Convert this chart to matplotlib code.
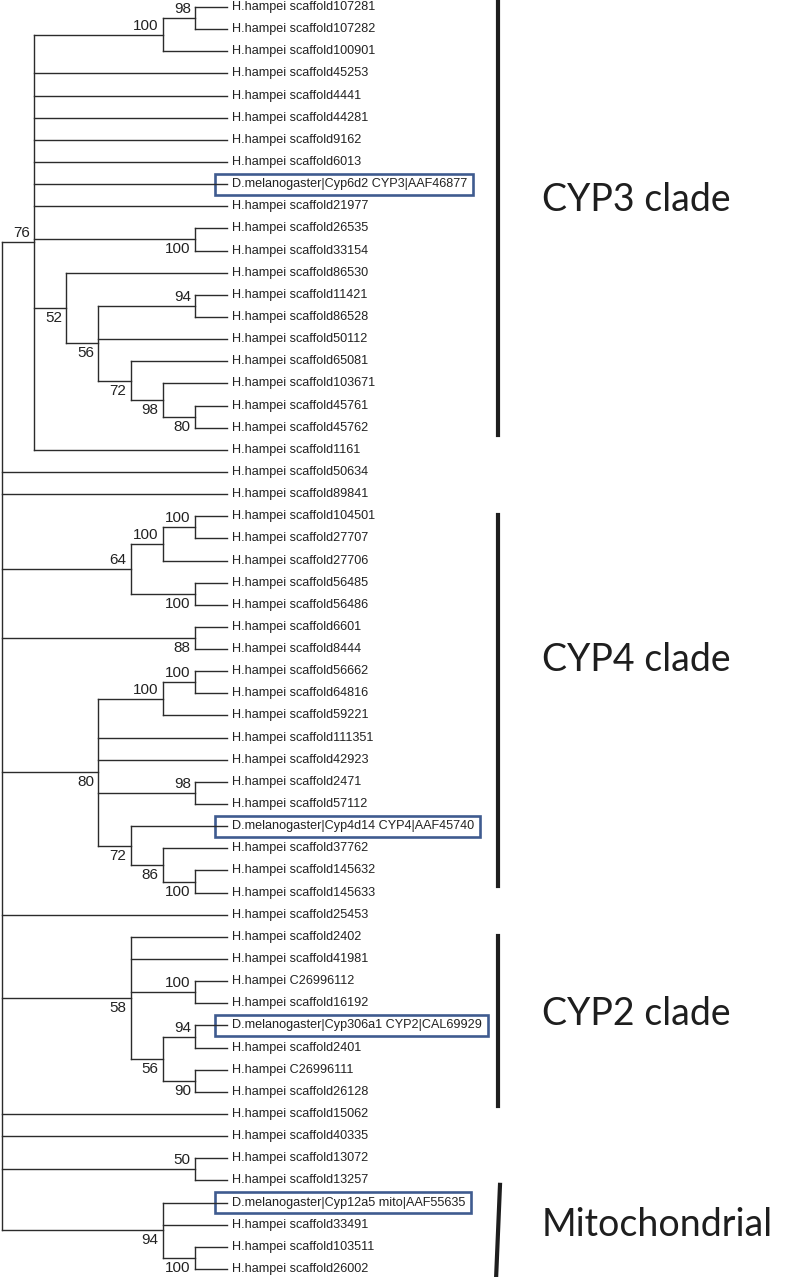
import matplotlib
matplotlib.use("Agg")
import matplotlib.pyplot as plt
from matplotlib.patches import Rectangle

# Cladogram in Newick form, internal labels are bootstrap supports
tree_newick = (
    "((((H.hampei scaffold107281,H.hampei scaffold107282)98,H.hampei scaffold100901)100,"
    "H.hampei scaffold45253,H.hampei scaffold4441,H.hampei scaffold44281,"
    "H.hampei scaffold9162,H.hampei scaffold6013,D.melanogaster|Cyp6d2 CYP3|AAF46877,"
    "H.hampei scaffold21977,(H.hampei scaffold26535,H.hampei scaffold33154)100,"
    "(H.hampei scaffold86530,((H.hampei scaffold11421,H.hampei scaffold86528)94,"
    "H.hampei scaffold50112,(H.hampei scaffold65081,(H.hampei scaffold103671,"
    "(H.hampei scaffold45761,H.hampei scaffold45762)80)98)72)56)52,"
    "H.hampei scaffold1161)76,"
    "H.hampei scaffold50634,H.hampei scaffold89841,"
    "(((H.hampei scaffold104501,H.hampei scaffold27707)100,H.hampei scaffold27706)100,"
    "(H.hampei scaffold56485,H.hampei scaffold56486)100)64,"
    "(H.hampei scaffold6601,H.hampei scaffold8444)88,"
    "(((H.hampei scaffold56662,H.hampei scaffold64816)100,H.hampei scaffold59221)100,"
    "H.hampei scaffold111351,H.hampei scaffold42923,"
    "(H.hampei scaffold2471,H.hampei scaffold57112)98,"
    "(D.melanogaster|Cyp4d14 CYP4|AAF45740,(H.hampei scaffold37762,"
    "(H.hampei scaffold145632,H.hampei scaffold145633)100)86)72)80,"
    "H.hampei scaffold25453,"
    "(H.hampei scaffold2402,H.hampei scaffold41981,"
    "(H.hampei C26996112,H.hampei scaffold16192)100,"
    "((D.melanogaster|Cyp306a1 CYP2|CAL69929,H.hampei scaffold2401)94,"
    "(H.hampei C26996111,H.hampei scaffold26128)90)56)58,"
    "H.hampei scaffold15062,H.hampei scaffold40335,"
    "(H.hampei scaffold13072,H.hampei scaffold13257)50,"
    "(D.melanogaster|Cyp12a5 mito|AAF55635,H.hampei scaffold33491,"
    "(H.hampei scaffold103511,H.hampei scaffold26002)100)94);"
)

clade_names = ["CYP3 clade", "CYP4 clade", "CYP2 clade", "Mitochondrial"]

# where each support label sits (preorder of supported nodes): a=above, b=below
support_side = list("aaabbbabbb" "aaabbbaaab" "bbbabababb")

# layout (leaf-row units) of the clade bars and names
bar_top = [-0.35, 22.95, 41.95, 53.2]
bar_bottom = [19.33, 39.7, 49.65, 57.5]
bar_tilt = [0, 0, 0, 4]  # px, top end shifted right
clade_text_y = [8.7, 29.5, 45.5, 55.0]


def parse(s):
    pos = 0

    def node():
        nonlocal pos
        if s[pos] == "(":
            pos += 1
            kids = [node()]
            while s[pos] == ",":
                pos += 1
                kids.append(node())
            pos += 1
            start = pos
            while s[pos] not in ",);":
                pos += 1
            return {"kids": kids, "support": s[start:pos].strip()}
        start = pos
        while s[pos] not in ",);":
            pos += 1
        return {"name": s[start:pos].strip()}

    return node()


root = parse(tree_newick)

leaves = []


def layout(n):
    if "kids" not in n:
        n["y"] = len(leaves)
        n["h"] = 0
        leaves.append(n)
        return
    for k in n["kids"]:
        layout(k)
    n["y"] = (n["kids"][0]["y"] + n["kids"][-1]["y"]) / 2
    n["h"] = 1 + max(k["h"] for k in n["kids"])


layout(root)
depth = root["h"]


def set_x(n):
    n["x"] = depth - n["h"]
    for k in n.get("kids", []):
        set_x(k)


set_x(root)

W, H = 787, 1277
px_x, px_y = 32.14, 22.14  # pixels per level / per row
fig = plt.figure(figsize=(W / 100, H / 100), dpi=100)
ax = fig.add_axes([0, 0, 1, 1])
ax.set_xlim(-2 / px_x, (W - 2) / px_x)
ax.set_ylim((H - 7) / px_y, -7 / px_y)
ax.axis("off")

lc = "#2b2b2b"
pt = 0.72  # points per pixel
supported = []


def draw(n):
    if "kids" not in n:
        return
    ax.plot([n["x"], n["x"]], [n["kids"][0]["y"], n["kids"][-1]["y"]],
            color=lc, lw=1.0, solid_capstyle="projecting")
    if n["support"]:
        supported.append(n)
    for k in n["kids"]:
        ax.plot([n["x"], k["x"]], [k["y"], k["y"]], color=lc, lw=1.0,
                solid_capstyle="projecting")
        draw(k)


draw(root)

for n, side in zip(supported, support_side):
    dy = 2.0 if side == "a" else -3.0
    ax.annotate(n["support"], (n["x"], n["y"]), xytext=(-4 * pt, dy * pt),
                textcoords="offset points", ha="right",
                va="bottom" if side == "a" else "top",
                fontsize=11, family="Liberation Sans", color="#222222")

texts = []
for n in leaves:
    t = ax.annotate(n["name"], (n["x"], n["y"]), xytext=(5 * pt, 0),
                    textcoords="offset points", ha="left", va="center",
                    fontsize=9.1, family="Liberation Sans", color="#222222")
    texts.append((n, t))

# boxes around the Drosophila reference genes
fig.canvas.draw()
inv = ax.transData.inverted()
for n, t in texts:
    if not n["name"].startswith("D.melanogaster"):
        continue
    bb = t.get_window_extent()
    x1 = inv.transform((bb.x1 + 6, 0))[0]
    x0 = n["x"] - 12 / px_x
    ax.add_patch(Rectangle((x0, n["y"] - 10.5 / px_y), x1 - x0, 21 / px_y,
                           fill=False, ec="#3f5b8f", lw=1.9))

bar_x = (498 - 2) / px_x
for name, y0, y1, tilt, ty in zip(clade_names, bar_top, bar_bottom,
                                  bar_tilt, clade_text_y):
    ax.plot([bar_x + tilt / 2 / px_x, bar_x - tilt / 2 / px_x], [y0, y1],
            color="#1e1e1e", lw=3.0)
    ax.text((542 - 2) / px_x, ty, name, va="center", ha="left",
            fontsize=27, family="Lato", color="#1e1e1e")

fig.savefig("out.png", dpi=100)
